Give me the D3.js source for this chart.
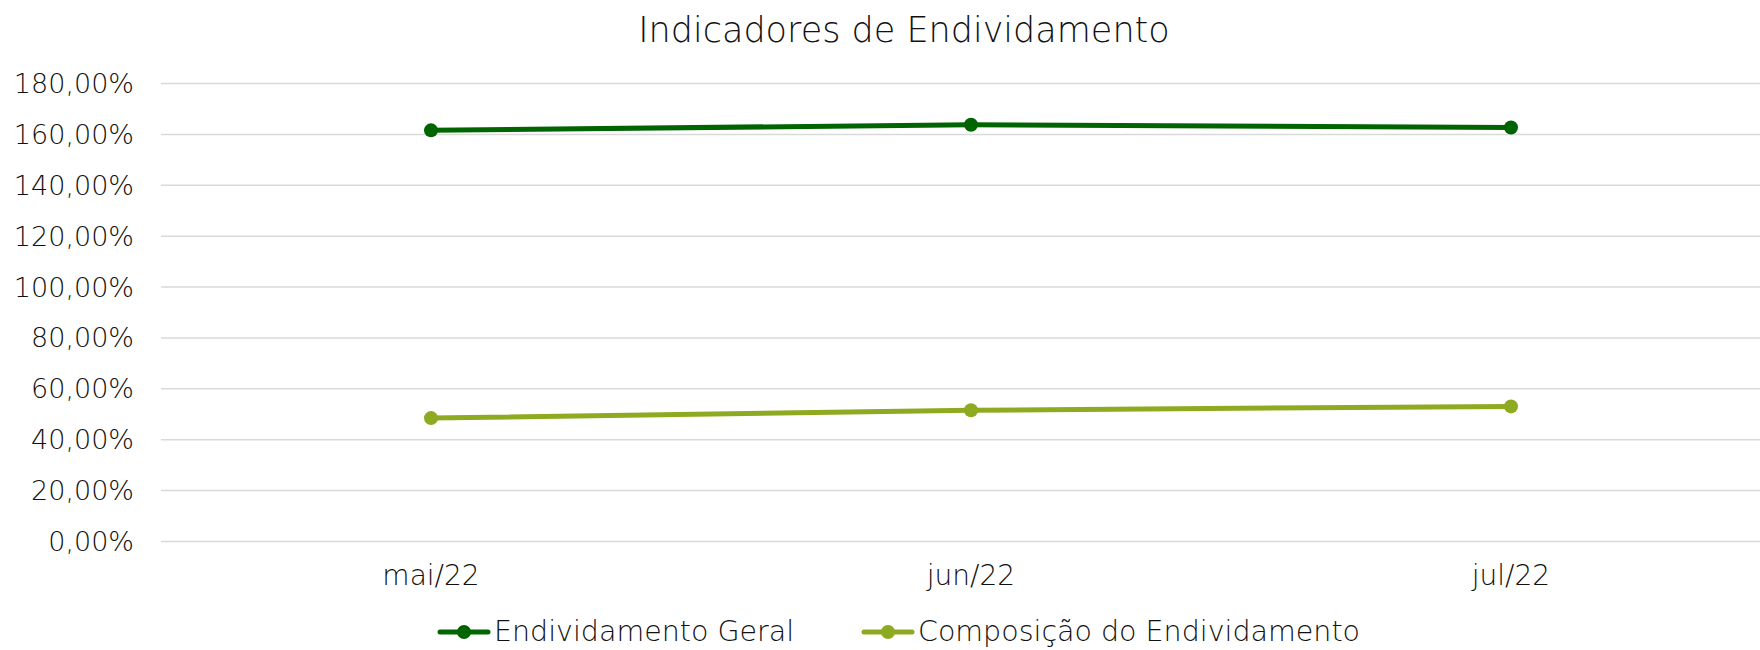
<!DOCTYPE html>
<html>
<head>
<meta charset="utf-8">
<script src="https://cdn.jsdelivr.net/npm/d3@7"></script>
<style>
  body { margin: 0; background: #fff; }
  svg text { font-family: "DejaVu Sans", sans-serif; font-weight: 200; fill: #111; }
</style>
</head>
<body>
<svg id="chart" width="1760" height="650"></svg>
<script>
// chart data
var categories = ["mai/22", "jun/22", "jul/22"];
var seriesNames = ["Endividamento Geral", "Composição do Endividamento"];
var endividamentoGeral = [161.4, 163.6, 162.5];
var composicao = [48.3, 51.4, 52.9];
var yTicks = [0, 20, 40, 60, 80, 100, 120, 140, 160, 180];
var colors = ["#006400", "#8eaa20"];

var svg = d3.select("#chart");

//plot area
var plotLeft = 161, plotRight = 1781, plotTop = 83, plotBottom = 541;

var x = d3.scaleBand().domain(categories).range([plotLeft, plotRight]);
var y = d3.scaleLinear().domain([0, 180]).range([plotBottom, plotTop]);

var fmt = function(d) { return d3.format(".2f")(d).replace(".", ",") + "%"; };

//gridlines + y labels
var yAxis = d3.axisLeft(y).tickValues(yTicks).tickFormat(fmt).tickSize(-(plotRight - plotLeft)).tickPadding(27);
var gy = svg.append("g").attr("transform", "translate(" + plotLeft + ",0)").call(yAxis);
gy.select(".domain").remove();
gy.selectAll(".tick line").attr("stroke", "#d9d9d9").attr("stroke-width", 1.5);
gy.selectAll(".tick text").style("font-size", "27px").attr("dy", "0.35em");

//x labels
var xAxis = d3.axisBottom(x).tickSize(0).tickPadding(24);
var gx = svg.append("g").attr("transform", "translate(0," + plotBottom + ")").call(xAxis);
gx.select(".domain").remove();
gx.selectAll(".tick text").style("font-size", "28px");

//series
var series = [endividamentoGeral, composicao];
var line = d3.line()
    .x(function(d, i) { return x(categories[i]) + x.bandwidth() / 2; })
    .y(function(d) { return y(d); });

series.forEach(function(values, s) {
    svg.append("path")
        .attr("d", line(values))
        .attr("fill", "none")
        .attr("stroke", colors[s])
        .attr("stroke-width", 5)
        .attr("stroke-linecap", "round");
    svg.selectAll(".pt" + s)
        .data(values)
        .enter()
        .append("circle")
        .attr("cx", function(d, i) { return x(categories[i]) + x.bandwidth() / 2; })
        .attr("cy", function(d) { return y(d); })
        .attr("r", 7)
        .attr("fill", colors[s]);
});

//title
svg.append("text")
    .attr("x", 904)
    .attr("y", 42)
    .attr("text-anchor", "middle")
    .style("font-size", "35px")
    .text("Indicadores de Endividamento");

//legend
var legendX = [440, 864];
var legend = svg.selectAll(".legend")
    .data(seriesNames)
    .enter()
    .append("g")
    .attr("transform", function(d, i) { return "translate(" + legendX[i] + ",632)"; });

legend.append("line")
    .attr("x1", 0).attr("x2", 48)
    .attr("stroke", function(d, i) { return colors[i]; })
    .attr("stroke-width", 5)
    .attr("stroke-linecap", "round");
legend.append("circle")
    .attr("cx", 24)
    .attr("r", 7)
    .attr("fill", function(d, i) { return colors[i]; });
legend.append("text")
    .attr("x", 54)
    .attr("dy", "0.33em")
    .style("font-size", "28.5px")
    .text(function(d) { return d; });
</script>
</body>
</html>
